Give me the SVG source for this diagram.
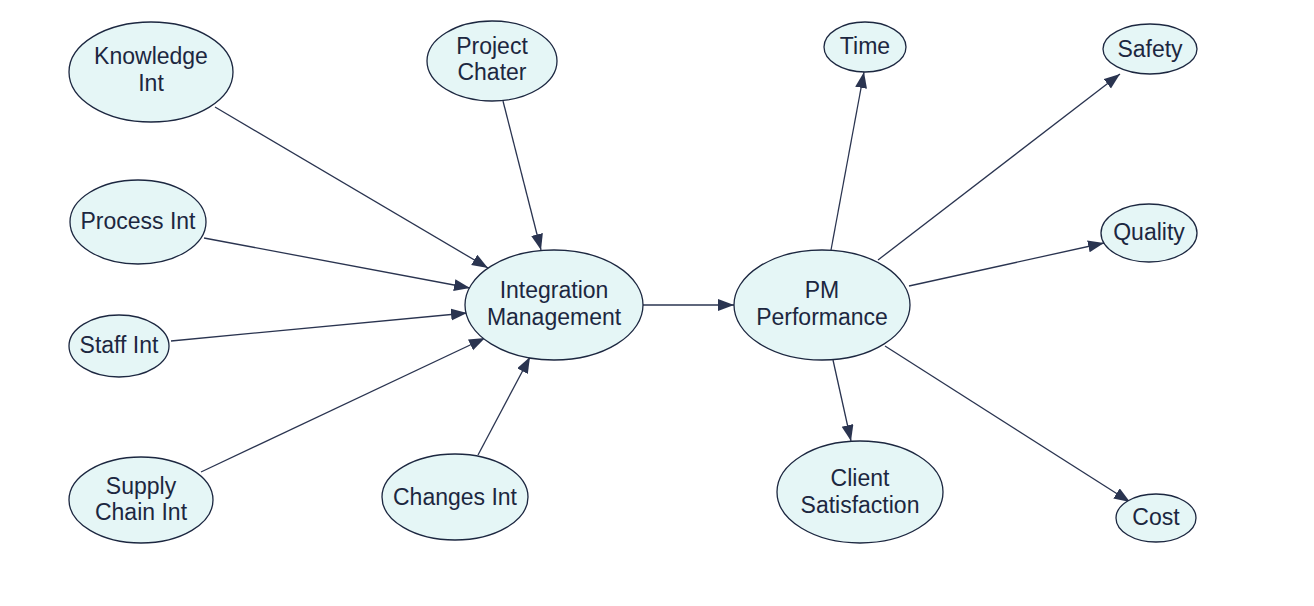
<svg xmlns="http://www.w3.org/2000/svg" width="1314" height="606" viewBox="0 0 1314 606">
<defs>
<style>
.n ellipse{fill:#e5f6f6;stroke:#1c2740;stroke-width:1.3}
.n text{font-family:"Liberation Sans",Arial,sans-serif;font-size:23px;fill:#1c2740;text-anchor:middle}
.e line{stroke:#2a3450;stroke-width:1.3;marker-end:url(#ah)}
</style>
<marker id="ah" markerUnits="userSpaceOnUse" markerWidth="17" markerHeight="13" refX="16" refY="6" orient="auto">
<path d="M0,0 L16,6 L0,12 Z" fill="#2a3450"/>
</marker>
</defs>
<rect width="1314" height="606" fill="#ffffff"/>
<g id="edges" class="e">
<line x1="215" y1="107" x2="488" y2="268"/>
<line x1="503" y1="101" x2="541" y2="250"/>
<line x1="204" y1="238" x2="470" y2="288"/>
<line x1="171" y1="341" x2="467" y2="313"/>
<line x1="201" y1="472" x2="485" y2="338"/>
<line x1="478" y1="455" x2="530" y2="357"/>
<line x1="643" y1="305" x2="734" y2="305"/>
<line x1="831" y1="250" x2="864" y2="72"/>
<line x1="878" y1="260" x2="1120" y2="74"/>
<line x1="909" y1="286" x2="1104" y2="243"/>
<line x1="833" y1="360" x2="851" y2="441"/>
<line x1="885" y1="346" x2="1130" y2="502"/>
</g>
<g id="knowledge" class="n"><ellipse cx="151" cy="72" rx="82" ry="50"/><text x="151" y="64">Knowledge</text><text x="151" y="91">Int</text></g>
<g id="project" class="n"><ellipse cx="492" cy="61" rx="65" ry="40"/><text x="492" y="54">Project</text><text x="492" y="80">Chater</text></g>
<g id="process" class="n"><ellipse cx="138" cy="222" rx="68" ry="42"/><text x="138" y="229">Process Int</text></g>
<g id="staff" class="n"><ellipse cx="119" cy="346" rx="50" ry="31"/><text x="119" y="353">Staff Int</text></g>
<g id="supply" class="n"><ellipse cx="141" cy="500" rx="72" ry="43"/><text x="141" y="494">Supply</text><text x="141" y="520">Chain Int</text></g>
<g id="changes" class="n"><ellipse cx="455" cy="497" rx="73" ry="43"/><text x="455" y="505">Changes Int</text></g>
<g id="integration" class="n"><ellipse cx="554" cy="305" rx="89" ry="55"/><text x="554" y="298">Integration</text><text x="554" y="325">Management</text></g>
<g id="pm" class="n"><ellipse cx="822" cy="305" rx="88" ry="55"/><text x="822" y="298">PM</text><text x="822" y="325">Performance</text></g>
<g id="time" class="n"><ellipse cx="865" cy="47" rx="41" ry="25"/><text x="865" y="54">Time</text></g>
<g id="safety" class="n"><ellipse cx="1150" cy="49" rx="47" ry="25"/><text x="1150" y="57">Safety</text></g>
<g id="quality" class="n"><ellipse cx="1149" cy="233" rx="48" ry="29"/><text x="1149" y="240">Quality</text></g>
<g id="client" class="n"><ellipse cx="860" cy="492" rx="83" ry="51"/><text x="860" y="486">Client</text><text x="860" y="513">Satisfaction</text></g>
<g id="cost" class="n"><ellipse cx="1156" cy="518" rx="40" ry="24"/><text x="1156" y="525">Cost</text></g>
</svg>
